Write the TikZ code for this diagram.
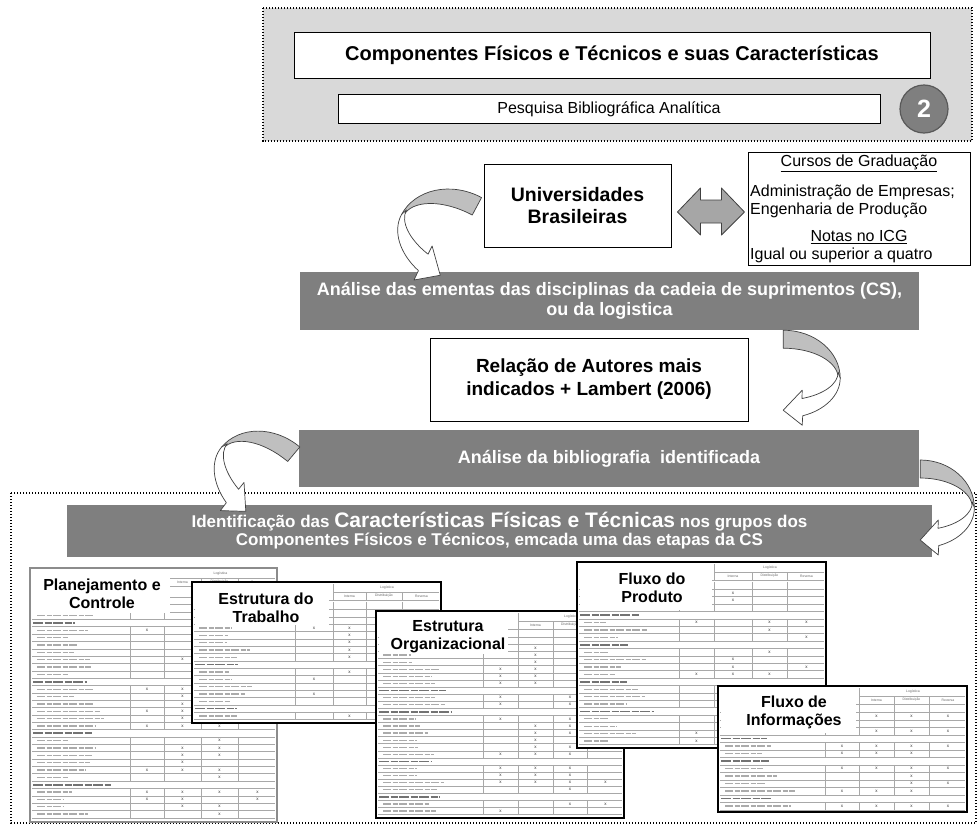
\documentclass[tikz,border=0pt]{standalone}
\usepackage{fontspec}
\setmainfont{Liberation Sans}
\usetikzlibrary{calc}

\definecolor{bandgrey}{HTML}{7F7F7F}
\definecolor{panelgrey}{HTML}{D9D9D9}
\definecolor{arrowback}{HTML}{BFBFBF}
\definecolor{arrowline}{HTML}{404040}
\definecolor{dblgrey}{HTML}{A6A6A6}
\definecolor{gridgrey}{HTML}{A8A8A8}

\newcommand{\fsz}[2]{\fontsize{#1}{#2}\selectfont}

\tikzset{
  whitebox/.style={draw=black, line width=0.9pt, fill=white, inner sep=0, align=center},
  band/.style={fill=bandgrey, text=white, inner sep=0, align=center, font=\bfseries\fsz{18}{20}},
  dotframe/.style={draw=black, line width=1.4pt, dash pattern=on 1.4pt off 1.6pt},
  plaintext/.style={inner sep=0, font=\fsz{16}{18}},
  cellline/.style={draw=gridgrey, line width=0.45pt},
  labelbar/.style={draw=black!33, line width=1.3pt, dash pattern=on 8pt off 1.5pt on 5pt off 1.5pt},
  headbar/.style={draw=black!55, line width=1.6pt, dash pattern=on 10pt off 1.5pt on 7pt off 1.5pt},
  xmark/.style={inner sep=0, font=\fsz{4.5}{4.5}, text=black!80},
  hdtext/.style={inner sep=0, font=\fsz{3.4}{3.4}, text=black!60},
  sheettitle/.style={inner sep=0, align=center, font=\bfseries\fsz{16}{18}},
  sheetframe/.style={draw=black, line width=2.2pt},
  plframe/.style={draw=black!45, line width=1.3pt},
  backpart/.style={fill=arrowback, draw=arrowline, line width=0.7pt, line join=round},
  frontpart/.style={fill=white, draw=arrowline, line width=0.7pt, line join=round},
  % curved block arrow: starts at (0,0) heading right, bends down, tip at (0,80) pointing left
  bentarrow/.pic={
    \path[backpart] (0,0) arc[start angle=-90, end angle=0, x radius=57, y radius=48]
      -- (55,48) arc[start angle=0, end angle=-90, x radius=55, y radius=30] -- cycle;
    \path[frontpart] (57,48) arc[start angle=0, end angle=70, x radius=57, y radius=40]
      -- (19,95) -- (0,80) -- (19,60) -- (18.8,68.3)
      arc[start angle=70, end angle=0, x radius=55, y radius=28] -- cycle;
  }
}

% column headings of a worksheet: #1 prefix, #2-#5 column dividers, #6 width
\newcommand{\sheethead}[6]{%
  \node[hdtext] (#1-log) at ({(#3+#6)/2},6) {Logística};
  \node[hdtext] (#1-int) at ({(#3+#4)/2},14) {Interna};
  \node[hdtext] (#1-dis) at ({(#4+#5)/2},14) {Distribuição};
  \node[hdtext] (#1-rev) at ({(#5+#6)/2},14) {Reversa};
  \draw[cellline] (#3,10) -- (#6-2,10) (#2,18) -- (#6-2,18)
    (#3,2) -- (#3,18) (#4,10) -- (#4,18) (#5,10) -- (#5,18);
}

% worksheet rows: #1 prefix, #2-#5 column dividers, #6 width, #7 first row, #8 row step,
% #9 list of kind/a/b/c/d (kind 0 = section heading, 1 = item; a-d = marked cells)
\newcommand{\sheetrows}[9]{%
  \foreach \rk/\ma/\mb/\mc/\md [count=\ri from 0] in {#9} {%
    \pgfmathsetmacro{\ry}{#7+\ri*#8}%
    \pgfmathsetmacro{\rtop}{\ry-#8/2}%
    \pgfmathsetmacro{\rbot}{\ry+#8/2}%
    \draw[cellline] (2,\rbot) -- (#6-2,\rbot);%
    \ifnum\rk=0
      \pgfmathsetmacro{\rl}{40+40*rnd}%
      \draw[headbar] (3,\ry) -- ++(\rl,0);%
    \else
      \pgfmathsetmacro{\rl}{22+50*rnd}%
      \draw[labelbar] (7,\ry) -- ++(\rl,0);%
      \draw[cellline] (#2,\rtop) -- (#2,\rbot) (#3,\rtop) -- (#3,\rbot)
        (#4,\rtop) -- (#4,\rbot) (#5,\rtop) -- (#5,\rbot);%
      \ifnum\ma=1 \node[xmark] (#1-\ri-a) at ({(#2+#3)/2},\ry) {x};\fi
      \ifnum\mb=1 \node[xmark] (#1-\ri-b) at ({(#3+#4)/2},\ry) {x};\fi
      \ifnum\mc=1 \node[xmark] (#1-\ri-c) at ({(#4+#5)/2},\ry) {x};\fi
      \ifnum\md=1 \node[xmark] (#1-\ri-d) at ({(#5+#6)/2},\ry) {x};\fi
    \fi
  }%
}

\begin{document}
\begin{tikzpicture}[x=1pt,y=-1pt]
\pgfmathsetseed{11}
\useasboundingbox (0,0) rectangle (977,827);
\fill[white] (0,0) rectangle (977,827);

% ---------- header panel ----------
\draw[dotframe, fill=panelgrey] (263,8) rectangle (972,141);
\node[whitebox, minimum width=636, minimum height=46, font=\bfseries\fsz{20}{22}] (comp) at (612,55)
  {Componentes Físicos e Técnicos e suas Características};
\node[whitebox, minimum width=542, minimum height=29, font=\fsz{16}{18}] (pesq) at (609,109)
  {Pesquisa Bibliográfica Analítica};
\node[circle, fill=bandgrey, draw=black!65, line width=1.2pt, minimum size=48, inner sep=0,
  text=white, font=\bfseries\fsz{25}{25}] (stage) at (924,109) {2};

% ---------- universities and courses ----------
\node[whitebox, minimum width=187, minimum height=83, font=\bfseries\fsz{19.5}{22}] (univ) at (577.5,205.5)
  {Universidades\\Brasileiras};
\node[whitebox, minimum width=222, minimum height=113] (cursos) at (859,208.5) {};
\node[plaintext] (cg) at (859,163) {\underline{Cursos de Graduação}};
\node[plaintext, anchor=west] (adm) at (750,192) {Administração de Empresas;};
\node[plaintext, anchor=west] (eng) at (750,210) {Engenharia de Produção};
\node[plaintext] (icg) at (859,237) {\underline{Notas no ICG}};
\node[plaintext, anchor=west] (igual) at (750,255) {Igual ou superior a quatro};

\draw[fill=dblgrey, draw=arrowline, line width=0.8pt, line join=round]
  ($(univ.east)+(6,6.5)$) -- ++(23,-24) -- ++(0,12) -- ++(21,0) -- ++(0,-12) -- ++(23,24)
  -- ++(-23,23) -- ++(0,-12) -- ++(-21,0) -- ++(0,12) -- cycle;

% ---------- analysis steps ----------
\node[band, minimum width=619, minimum height=58] (band1) at (609.5,301)
  {Análise das ementas das disciplinas da cadeia de suprimentos (CS),\\ou da logistica};
\node[whitebox, minimum width=318, minimum height=83, font=\bfseries\fsz{19}{23}] (autores) at (589,379.5)
  {Relação de Autores mais\\indicados + Lambert (2006)};
\node[band, minimum width=620, minimum height=57] (band2) at (609,458.5)
  {Análise da bibliografia \ identificada};

\pic[shift={($(univ.north west)+(-2,34)$)}, rotate=-28, xscale=-1.1, yscale=1.1] {bentarrow};
\pic[shift={($(band1.south east)+(-136,0)$)}] {bentarrow};

% ---------- identification panel ----------
\draw[dotframe, fill=white] (11,493) rectangle (976,823);
\node[band, minimum width=865, minimum height=52, font={\bfseries\fsz{17}{18}\lineskiplimit=-100pt}] (band3) at (499.5,531)
  {Identificação das {\fsz{21}{21}Características Físicas e Técnicas} nos grupos dos\\
   Componentes Físicos e Técnicos, emcada uma das etapas da CS};

\pic[shift={($(band2.west)+(1,-11.5)$)}, rotate=-40, xscale=-1.05, yscale=1.05] {bentarrow};
\pic[shift={($(band2.east)+(1,1.5)$)}, xscale=0.95] {bentarrow};

% Planejamento e Controle
\begin{scope}[shift={(30,568)}]
  \fill[white] (0,0) rectangle (247,254);
  \sheethead{pc}{100}{134}{171}{208}{247}
  \sheetrows{pc}{100}{134}{171}{208}{247}{25.6}{7.35}{1/0/0/0/0,1/0/0/0/0,1/0/0/0/0,1/0/0/0/0,
    0/0/0/0/0,1/1/0/0/0,1/0/0/0/0,1/0/0/0/0,1/0/0/0/0,1/0/1/0/0,1/0/0/0/0,1/0/0/0/0,
    0/0/0/0/0,1/1/1/0/0,1/0/1/0/0,1/0/1/0/0,1/1/1/0/0,1/0/1/0/0,1/1/1/1/0,
    0/0/0/0/0,1/0/0/1/0,1/0/1/1/0,1/0/1/1/0,1/0/1/0/0,1/1/1/1/0,1/0/0/1/0,
    0/0/0/0/0,1/1/1/1/1,1/1/1/0/1,1/0/1/1/0,1/0/0/1/0}
  \fill[white] (2,2) rectangle (140,45);
  \node[sheettitle] (pc-title) at (72,26) {Planejamento e\\Controle};
  \draw[plframe] (0,0) rectangle (247,254);
\end{scope}

% Estrutura do Trabalho
\begin{scope}[shift={(192,582)}]
  \fill[white] (0,0) rectangle (249,141);
  \sheethead{et}{103}{141}{174}{210}{249}
  \sheetrows{et}{103}{141}{174}{210}{249}{24}{7.33}{1/0/0/0/0,1/0/0/0/0,1/0/0/0/0,
    1/1/1/0/0,1/0/1/0/0,1/0/1/0/0,1/0/1/0/0,1/0/1/0/0,
    0/0/0/0/0,1/0/1/0/0,1/1/0/0/0,1/0/0/0/0,1/1/0/0/0,1/0/0/0/0,
    0/0/0/0/0,1/0/1/0/0}
  \fill[white] (3,3) rectangle (137,43);
  \node[sheettitle] (et-title) at (74,26) {Estrutura do\\Trabalho};
  \draw[sheetframe] (0,0) rectangle (249,141);
\end{scope}

% Estrutura Organizacional
\begin{scope}[shift={(376,611)}]
  \fill[white] (0,0) rectangle (248,207);
  \sheethead{eo}{107}{142}{177}{211}{248}
  \sheetrows{eo}{107}{142}{177}{211}{248}{22.8}{7.09}{1/0/0/0/0,1/0/0/0/0,
    1/0/1/0/0,1/0/1/0/0,1/0/1/0/0,1/1/1/0/0,1/1/1/0/0,1/1/1/0/0,
    0/0/0/0/0,1/1/0/1/0,1/1/0/1/0,
    0/0/0/0/0,1/1/0/1/0,1/0/1/1/0,1/0/1/1/0,1/0/1/0/0,1/0/1/1/0,1/1/1/1/0,
    0/0/0/0/0,1/1/1/1/0,1/1/1/1/0,1/1/1/1/1,1/0/0/1/0,
    0/0/0/0/0,1/0/0/1/1,1/1/0/0/0}
  \fill[white] (3,3) rectangle (132,43);
  \node[sheettitle] (eo-title) at (72,26) {Estrutura\\Organizacional};
  \draw[sheetframe] (0,0) rectangle (248,207);
\end{scope}

% Fluxo do Produto
\begin{scope}[shift={(577,562)}]
  \fill[white] (0,0) rectangle (249,186);
  \sheethead{fp}{102}{137}{175}{210}{249}
  \sheetrows{fp}{102}{137}{175}{210}{249}{23.6}{7.4}{1/0/0/0/0,
    1/0/1/0/0,1/0/1/0/0,1/0/0/0/0,
    0/0/0/0/0,1/1/0/1/1,1/0/0/1/0,1/0/0/0/1,
    0/0/0/0/0,1/0/0/1/0,1/0/1/0/0,1/0/1/0/1,1/1/1/1/0,
    0/0/0/0/0,1/0/0/0/0,1/0/0/0/0,1/0/0/0/0,
    0/0/0/0/0,1/0/0/0/0,1/0/0/0/0,1/1/0/0/0,1/1/0/0/0}
  \fill[white] (3,3) rectangle (135,48);
  \node[sheettitle] (fp-title) at (75,26) {Fluxo do\\Produto};
  \draw[sheetframe] (0,0) rectangle (249,186);
\end{scope}

% Fluxo de Informações
\begin{scope}[shift={(718,686)}]
  \fill[white] (0,0) rectangle (249,126);
  \sheethead{fi}{107}{141}{176}{211}{249}
  \sheetrows{fi}{107}{141}{176}{211}{249}{22.5}{7.5}{1/0/0/0/0,
    1/0/1/1/1,1/0/0/0/0,1/0/1/1/1,
    0/0/0/0/0,1/1/1/1/1,1/1/1/1/0,
    0/0/0/0/0,1/1/1/1/1,1/0/0/1/0,1/0/0/1/1,1/1/1/1/0,
    0/0/0/0/0,1/1/1/1/1}
  \fill[white] (3,3) rectangle (138,47);
  \node[sheettitle] (fi-title) at (76,26) {Fluxo de\\Informações};
  \draw[sheetframe] (0,0) rectangle (249,126);
\end{scope}

\end{tikzpicture}
\end{document}
